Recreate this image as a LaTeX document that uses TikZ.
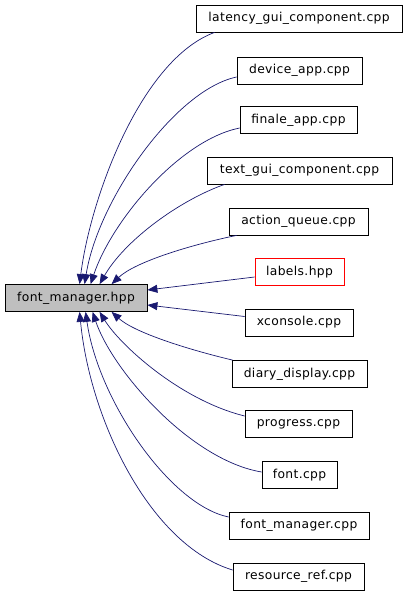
\documentclass[tikz,border=0pt]{standalone}
\usepackage{fontspec}
\setmainfont[LetterSpace=3]{DejaVu Sans}
\usetikzlibrary{arrows.meta,calc}
\definecolor{edgeblue}{RGB}{25,25,112}
\definecolor{rootgray}{RGB}{191,191,191}
\definecolor{linkred}{RGB}{255,0,0}
\begin{document}
\begin{tikzpicture}[x=1pt,y=-1pt,
  filebox/.style={draw=black,line width=0.8pt,inner sep=0pt,minimum height=27pt,font=\fontsize{12.3}{14}\selectfont,text=black},
  rootbox/.style={filebox,fill=rootgray},
  redbox/.style={filebox,draw=linkred},
  dep/.style={draw=edgeblue,line width=0.7pt,-{Triangle[length=10pt,width=8pt]},color=edgeblue}]
\useasboundingbox (0,0) rectangle (408,594);
\node[rootbox,minimum width=142pt] (fm) at (76,298) {font\_manager.hpp};
\node[filebox,minimum width=206pt] (lat) at (299,18.5) {latency\_gui\_component.cpp};
\node[filebox,minimum width=125pt] (dev) at (299.5,70.5) {device\_app.cpp};
\node[filebox,minimum width=117pt] (fin) at (298.5,120) {finale\_app.cpp};
\node[filebox,minimum width=185pt] (txt) at (299.5,170.5) {text\_gui\_component.cpp};
\node[filebox,minimum width=139pt] (act) at (298.5,221.5) {action\_queue.cpp};
\node[redbox,minimum width=89pt] (lab) at (299.5,272) {labels.hpp};
\node[filebox,minimum width=108pt] (xco) at (299,322.5) {xconsole.cpp};
\node[filebox,minimum width=135pt] (dia) at (299.5,374) {diary\_display.cpp};
\node[filebox,minimum width=107pt] (pro) at (298.5,424) {progress.cpp};
\node[filebox,minimum width=75pt] (fon) at (299.5,475) {font.cpp};
\node[filebox,minimum width=140pt] (fmc) at (299,525.5) {font\_manager.cpp};
\node[filebox,minimum width=131pt] (res) at (298.5,576.5) {resource\_ref.cpp};
% edges
\draw[dep] ($(lat.south west)+(19,0)$) .. controls (140,60) and (90,200) .. ($(fm.north west)+(75,0)$);
\draw[dep] ($(dev.west)+(0,6.5)$) .. controls (175,90) and (98,200) .. ($(fm.north west)+(80,0)$);
\draw[dep] ($(fin.west)+(0,8)$) .. controls (180,140) and (112,220) .. ($(fm.north west)+(86,0)$);
\draw[dep] ($(txt.south west)+(18,0)$) .. controls (180,200) and (125,240) .. ($(fm.north west)+(95,0)$);
\draw[dep] ($(act.south west)+(8,0)$) .. controls (190,245) and (135,262) .. ($(fm.north west)+(107,0)$);
\draw[dep] ($(lab.west)+(0,5)$) -- ($(fm.east)+(0,-8)$);
\draw[dep] ($(xco.west)+(0,-6)$) -- ($(fm.east)+(0,7)$);
\draw[dep] ($(dia.north west)+(1,0)$) .. controls (190,350) and (135,333) .. ($(fm.south west)+(107,0)$);
\draw[dep] ($(pro.west)+(0,-8)$) .. controls (180,400) and (120,345) .. ($(fm.south west)+(95,0)$);
\draw[dep] ($(fon.west)+(0,-3)$) .. controls (190,460) and (112,370) .. ($(fm.south west)+(88,0)$);
\draw[dep] ($(fmc.west)+(0,-8.5)$) .. controls (170,505) and (98,400) .. ($(fm.south west)+(81,0)$);
\draw[dep] ($(res.west)+(0,-6.5)$) .. controls (150,545) and (90,420) .. ($(fm.south west)+(75,0)$);
\end{tikzpicture}
\end{document}
